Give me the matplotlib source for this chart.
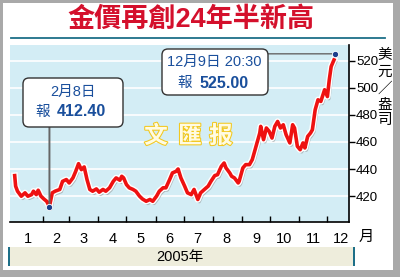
import matplotlib
matplotlib.use("Agg")
import matplotlib.pyplot as plt
import matplotlib.patheffects as pe
import matplotlib.transforms as mtransforms
from matplotlib.patches import Rectangle, FancyBboxPatch

plt.rcParams['font.family'] = ['Liberation Sans', 'Noto Sans CJK TC']

# 2005年金價 (美元/盎司)，x = 當年第幾日
days = [1, 2, 4, 8, 12, 15, 19, 21, 24, 26,
        29, 32, 35, 38, 41, 44, 49, 52, 56, 59,
        63, 66, 69, 72, 75, 78, 81, 84, 88, 91,
        95, 98, 102, 106, 109, 113, 115, 117, 120, 123,
        127, 130, 134, 137, 141, 145, 148, 152, 155, 159,
        162, 166, 169, 173, 175, 178, 182, 185, 189, 192,
        196, 199, 203, 207, 210, 214, 217, 221, 224, 226,
        230, 232, 235, 239, 240, 244, 247, 251, 254, 258,
        262, 263, 266, 269, 272, 275, 278, 281, 284, 287,
        290, 294, 297, 299, 302, 305, 308, 310, 313, 316,
        318, 321, 324, 327, 331, 334, 336, 338, 341]
prices = [435.2, 427.4, 423.7, 420.0, 422.5, 420.0, 421.2, 423.7, 421.2, 424.4,
          420.0, 418.0, 416.3, 412.4, 422.5, 423.7, 425.0, 431.0, 432.3, 429.8,
          433.5, 438.4, 444.0, 439.6, 441.6, 432.3, 425.0, 423.7, 425.4, 423.0,
          425.0, 423.7, 426.2, 431.0, 433.5, 431.8, 434.7, 433.5, 428.6, 426.2,
          425.0, 423.7, 420.0, 418.0, 416.3, 417.6, 416.3, 420.0, 423.7, 426.2,
          426.2, 432.3, 437.2, 438.4, 440.1, 433.5, 427.4, 422.5, 421.2, 425.0,
          417.6, 422.5, 425.0, 427.4, 431.0, 435.2, 435.9, 442.0, 444.5, 440.9,
          437.2, 434.7, 433.5, 429.8, 431.0, 440.9, 443.3, 443.3, 447.0, 456.8,
          466.6, 471.5, 461.7, 470.3, 467.8, 462.9, 471.5, 475.1, 470.3, 472.7,
          465.4, 459.3, 472.7, 470.3, 456.8, 454.3, 459.3, 455.6, 464.1, 466.6,
          469.0, 483.8, 491.1, 489.9, 498.5, 493.5, 505.8, 515.6, 520.5]

month_starts = [31, 59, 90, 120, 151, 181, 212, 243, 273, 304, 334]
month_mids = [15, 45, 74, 105, 135, 166, 196, 227, 258, 288, 319, 349]
month_labels = ['1', '2', '3', '4', '5', '6', '7', '8', '9', '10', '11', '12']
yticks = [420, 440, 460, 480, 500, 520]

low_day, low_price = 38, 412.40
high_day, high_price = 342, 525.00

red = '#ee1111'
blue = '#1a4f9c'
teal = '#1d6f88'

fig = plt.figure(figsize=(4, 2.77), dpi=100)
fig.patch.set_facecolor('#a9a9a9')
# pixel coordinates (origin top-left)
pix = mtransforms.Affine2D().scale(1 / 400, -1 / 277).translate(0, 1) + fig.transFigure

fig.patches.append(Rectangle((3, 3), 390, 267, transform=pix, facecolor='white',
                             edgecolor='none', zorder=-10))
fig.patches.append(Rectangle((8, 247), 347, 19, transform=pix, facecolor='#eeeddc',
                             edgecolor='none', zorder=-9))
fig.patches.append(Rectangle((8, 247), 2, 19, transform=pix, facecolor=teal,
                             edgecolor='none', zorder=-8))
fig.patches.append(Rectangle((353, 247), 2, 19, transform=pix, facecolor=teal,
                             edgecolor='none', zorder=-8))
fig.lines.append(plt.Line2D([11, 385], [38, 38], transform=pix, color=teal, lw=1.3, zorder=-8))

fig.text(191, 20, '金價再創24年半新高', transform=pix, ha='center', va='center',
         fontsize=19.5, fontweight='bold', color='#d4102c')
fig.text(180, 257, '2005年', transform=pix, ha='center', va='center', fontsize=10.5)
fig.text(366, 236, '月', transform=pix, ha='center', va='center', fontsize=11,
         family='Noto Sans CJK TC')
for ch, yy in zip('美元／盎司', [55, 72, 89, 104, 120]):
    fig.text(385, yy, ch, transform=pix, ha='center', va='center', fontsize=10.5,
             family='Noto Sans CJK TC')

# main chart
ax = fig.add_axes([10 / 400, 55 / 277, 339 / 400, 177 / 277])
ax.set_facecolor('#d3edf5')
ax.set_xlim(-4, 357)
ax.set_ylim(401, 531.5)
for s in ['left', 'top']:
    ax.spines[s].set_visible(False)
ax.spines['bottom'].set_linewidth(1.2)
ax.spines['right'].set_linewidth(1.2)
ax.yaxis.tick_right()
ax.set_yticks(yticks)
ax.tick_params(axis='y', direction='out', length=4, width=1, labelsize=9.5, pad=1)
ax.set_xticks(month_starts)
ax.set_xticklabels([])
ax.set_xticks(month_mids, minor=True)
ax.set_xticklabels(month_labels, minor=True)
ax.tick_params(axis='x', which='major', direction='in', length=4, width=1)
ax.tick_params(axis='x', which='minor', length=0, labelsize=10.5, pad=7)
ax.grid(axis='y', color='white', lw=1.2)
ax.set_axisbelow(True)

wm = dict(fontsize=17, color='#fffbe2', family='Noto Sans CJK TC', fontweight='bold',
          path_effects=[pe.withStroke(linewidth=1.5, foreground='#f2c81e')])
for ch, xx in zip('文匯报', [156, 190, 221]):
    fig.text(xx, 136, ch, transform=pix, ha='center', va='center', zorder=5, **wm)

ax.plot(days, prices, color=red, lw=2.6, solid_joinstyle='round', zorder=3,
        path_effects=[pe.SimpleLineShadow(offset=(1, -1.5), shadow_color='#888888', alpha=0.5),
                      pe.Stroke(linewidth=4.6, foreground='white'), pe.Normal()])

# connectors
ax.annotate('', xy=(low_day, low_price), xycoords='data', xytext=(low_day, 127),
            textcoords=mtransforms.blended_transform_factory(ax.transData, pix),
            arrowprops=dict(arrowstyle='-', color='#666666', lw=1.4, shrinkA=0, shrinkB=0))
ax.annotate('', xy=(high_day, high_price), xycoords='data', xytext=(268, high_price),
            textcoords=mtransforms.blended_transform_factory(pix, ax.transData),
            arrowprops=dict(arrowstyle='-', color='#666666', lw=1.0, shrinkA=0, shrinkB=0))
ax.plot([low_day, high_day], [low_price, high_price], 'o', ms=4.5, color='#1b3e8c',
        mec='white', mew=0.6, zorder=5, clip_on=False)

# info boxes
for (x0, y0, w, h) in [(23, 78, 100, 49), (162, 49, 106, 46)]:
    fig.patches.append(FancyBboxPatch((x0, y0), w, h, boxstyle='round,pad=0,rounding_size=6',
                                      transform=pix, facecolor='white', edgecolor='#333333',
                                      lw=1.0, zorder=10))
fig.text(73, 92, '2月8日', transform=pix, ha='center', va='center', fontsize=10.5,
         color=blue, zorder=11)
fig.text(43, 112, '報', transform=pix, ha='center', va='center', fontsize=10.5,
         color=blue, zorder=11)
fig.text(57, 112, f'{low_price:.2f}', transform=pix, ha='left', va='center', fontsize=11.5,
         fontweight='bold', color=blue, zorder=11)
fig.text(214, 62, '12月9日 20:30', transform=pix, ha='center', va='center', fontsize=10.5,
         color=blue, zorder=11)
fig.text(185, 83, '報', transform=pix, ha='center', va='center', fontsize=10.5,
         color=blue, zorder=11)
fig.text(199, 83, f'{high_price:.2f}', transform=pix, ha='left', va='center', fontsize=11.5,
         fontweight='bold', color=blue, zorder=11)

fig.savefig('out.png', dpi=100, facecolor=fig.get_facecolor())
